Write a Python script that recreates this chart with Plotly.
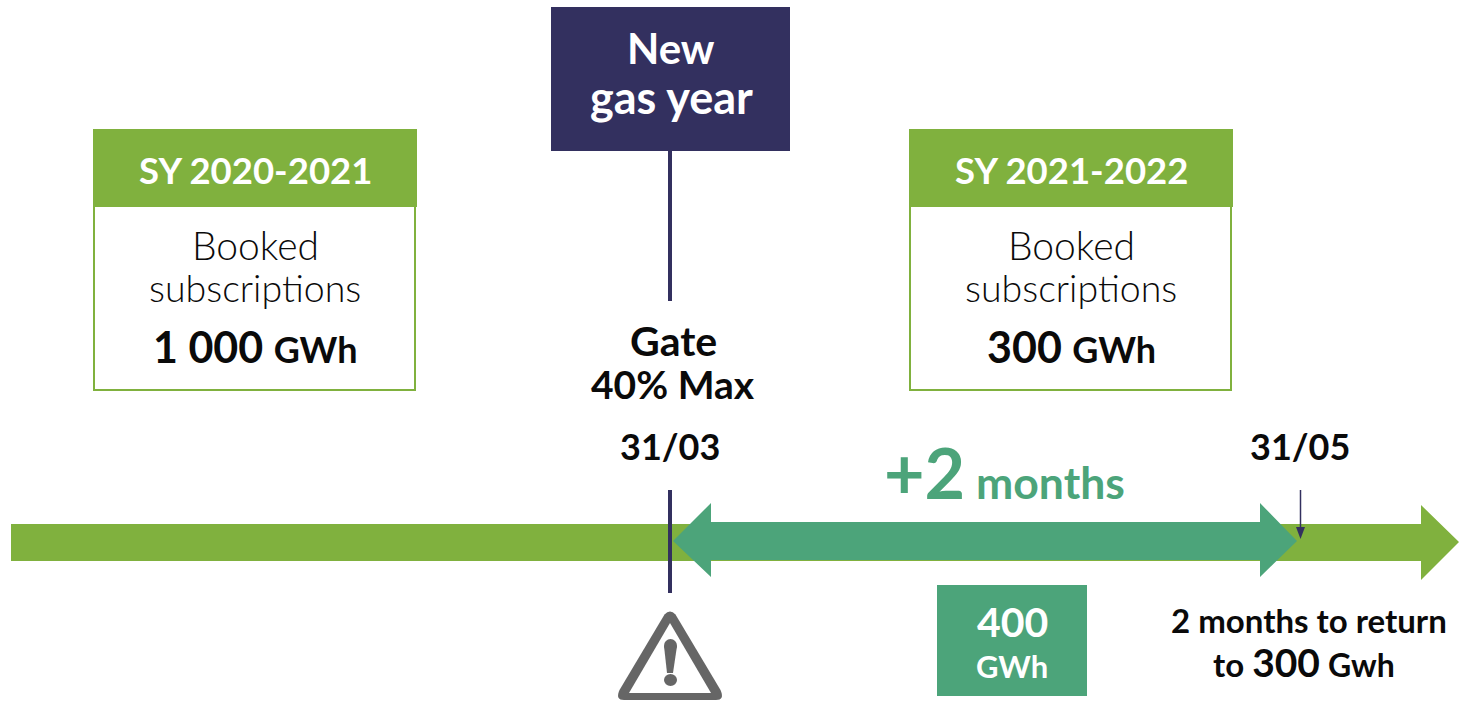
import plotly.graph_objects as go

W, H = 1463, 701
GREEN = "#80B13E"
TEAL = "#4CA47A"
NAVY = "#33305F"
GRAY = "#666666"
BLACK = "#0A0A0A"
FONT = "Lato"

season_labels = ["SY 2020-2021", "SY 2021-2022"]
booked_values = ["1 000", "300"]
booked_unit = "GWh"
milestone_dates = ["31/03", "31/05"]
gate_label = ["Gate", "40% Max"]
extension_label = ("+2", "months")
storage_value = ("400", "GWh")
return_note = ("2 months to return", "to ", "300", "Gwh")

fig = go.Figure()
shapes = []
notes = []


def rect(x0, y0, x1, y1, fill="rgba(0,0,0,0)", line=None, lw=0):
    shapes.append(dict(type="rect", x0=x0, y0=y0, x1=x1, y1=y1, fillcolor=fill,
                       line=dict(color=line or fill, width=lw), layer="above"))


def poly(pts, fill, line=None, lw=0):
    path = "M " + " L ".join(f"{x},{y}" for x, y in pts) + " Z"
    shapes.append(dict(type="path", path=path, fillcolor=fill,
                       line=dict(color=line or fill, width=lw), layer="above"))


def seg(x0, y0, x1, y1, color, lw):
    shapes.append(dict(type="line", x0=x0, y0=y0, x1=x1, y1=y1,
                       line=dict(color=color, width=lw), layer="above"))


def text(x, y, s, size, color=BLACK, weight=700, xanchor="center"):
    notes.append(dict(x=x, y=y, text=s, showarrow=False, xanchor=xanchor, yanchor="middle",
                      font=dict(family=FONT, size=size, color=color, weight=weight)))


def unit(s, size=36):
    return f"<span style='font-size:{size}px'>{s}</span>"


# main timeline arrow
poly([(11, 524), (1421, 524), (1421, 505), (1459, 542), (1421, 580), (1421, 561), (11, 561)], GREEN)
# navy markers
seg(670, 490, 670, 593, NAVY, 4)
seg(670, 151, 670, 301, NAVY, 4)
# double-headed extension arrow
poly([(673, 541), (711, 503), (711, 522), (1260, 522), (1260, 503), (1297, 541),
      (1260, 577), (1260, 560), (711, 560), (711, 577)], TEAL)
# 31/05 pointer
seg(1300.5, 490, 1300.5, 530, NAVY, 1.5)
poly([(1296, 527), (1305, 527), (1300.5, 539)], NAVY)

# New gas year box
rect(551, 7, 790, 151, NAVY)
text(671, 48, "New", 42, "white")
text(671, 97, "gas year", 45, "white")

# season boxes
for (x0, x1, bx0, bx1, season, val, cx) in [
    (93, 417, 94, 415, season_labels[0], booked_values[0], 255),
    (909, 1233, 910, 1231, season_labels[1], booked_values[1], 1071),
]:
    rect(bx0, 200, bx1, 390, "white", GREEN, 2)
    rect(x0, 129, x1, 207, GREEN)
    text((x0 + x1) / 2, 170, season, 36.5, "white")
    text(cx, 245, "Booked", 39, BLACK, 300)
    text(cx, 287, "subscriptions", 37.5, BLACK, 300)
    text(cx, 346, f"{val} {unit(booked_unit)}", 43)

# gate
text(673, 340, gate_label[0], 41)
text(673, 384, gate_label[1], 39)
text(670, 446, milestone_dates[0], 36)
text(1300, 446, milestone_dates[1], 36)

# +2 months
text(1004, 472, f"<span style='font-size:70px'>{extension_label[0]}</span> {unit(extension_label[1], 44.5)}", 44.5, TEAL)

# 400 GWh
rect(937, 585, 1087, 696, TEAL)
text(1012, 621, storage_value[0], 41, "white")
text(1012, 666, storage_value[1], 31, "white")

# return note
text(1309, 620, return_note[0], 33)
text(1304, 662, f"{return_note[1]}<span style='font-size:39px'>{return_note[2]}</span> {unit(return_note[3], 32)}", 33)

# warning triangle
shapes.append(dict(type="path", layer="above", fillcolor=GRAY, line=dict(color=GRAY, width=0),
                   path="M 664.5,614.5 Q 670,608.5 675.5,614.5 L 720.5,690 Q 725,700 716,700 "
                        "L 624,700 Q 615,700 619.5,690 Z"))
poly([(670, 623), (711, 693), (629, 693)], "white")
poly([(664, 646), (677, 646), (673, 673), (667, 673)], GRAY)
for y0, y1 in [(674, 686), (639, 652)]:
    shapes.append(dict(type="circle", x0=664, y0=y0, x1=677, y1=y1, fillcolor=GRAY,
                       line=dict(color=GRAY, width=0), layer="above"))

fig.update_layout(
    width=W, height=H, margin=dict(l=0, r=0, t=0, b=0),
    paper_bgcolor="white", plot_bgcolor="white", showlegend=False,
    xaxis=dict(range=[0, W], visible=False, fixedrange=True),
    yaxis=dict(range=[H, 0], visible=False, fixedrange=True),
    shapes=shapes, annotations=notes,
)
fig.write_html("out.html", config=dict(displayModeBar=False),
               post_script="document.body.style.margin='0';")
